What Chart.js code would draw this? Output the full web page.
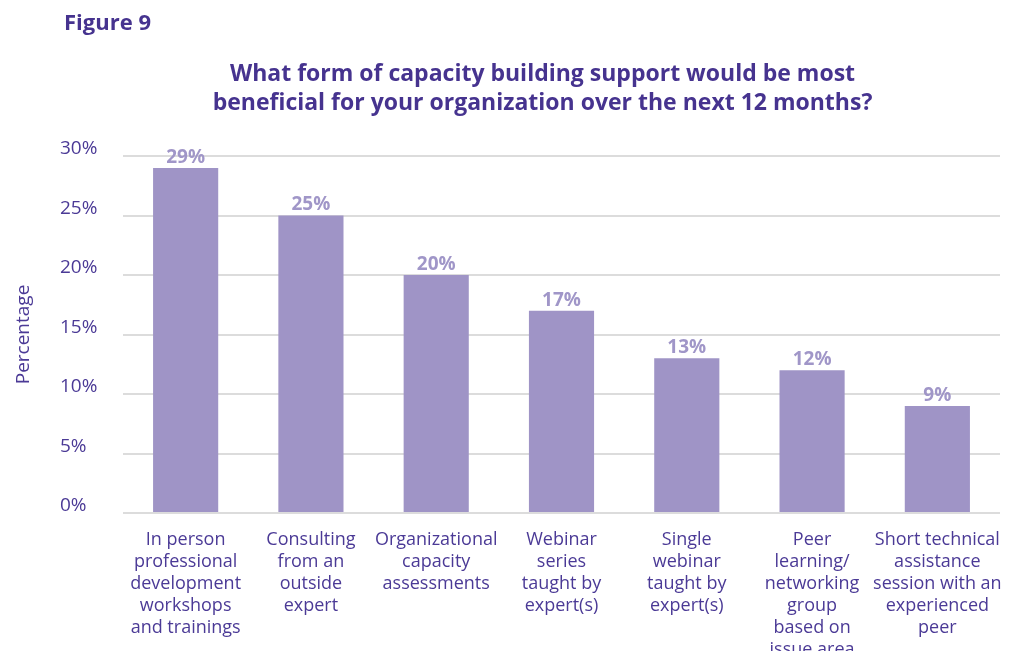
<!DOCTYPE html>
<html>
<head>
<meta charset="utf-8">
<title>Capacity building support</title>
<script src="https://cdn.jsdelivr.net/npm/chart.js@4/dist/chart.umd.min.js"></script>
<style>
    body {
        margin: 0;
        background: #ffffff;
        font-family: 'Open Sans', sans-serif;
    }
    #wrap {
        position: relative;
        width: 1031px;
        height: 651px;
        overflow: hidden;
    }
    #figure-label {
        position: absolute;
        left: 64px;
        top: 6px;
        font-size: 22px;
        font-weight: bold;
        color: #46338f;
    }
    #chart-title {
        position: absolute;
        left: 0;
        width: 1085px;
        top: 58px;
        text-align: center;
        font-size: 23px;
        line-height: 29px;
        font-weight: bold;
        color: #46338f;
    }
    canvas {
        position: absolute;
        left: 0;
        top: 0;
    }
</style>
</head>
<body>
<div id="wrap">
    <canvas id="support-chart" width="1031" height="651"></canvas>
    <div id="figure-label">Figure 9</div>
    <div id="chart-title">What form of capacity building support would be most<br>beneficial for your organization over the next 12 months?</div>
</div>

<script>
// Survey answers (share of respondents, %)
const categories = [
    ['In person', 'professional', 'development', 'workshops', 'and trainings'],
    ['Consulting', 'from an', 'outside', 'expert'],
    ['Organizational', 'capacity', 'assessments'],
    ['Webinar', 'series', 'taught by', 'expert(s)'],
    ['Single', 'webinar', 'taught by', 'expert(s)'],
    ['Peer', 'learning/', 'networking', 'group', 'based on', 'issue area'],
    ['Short technical', 'assistance', 'session with an', 'experienced', 'peer']
];
const percentages = [29, 25, 20, 17, 13, 12, 9];
const yTicks = [0, 5, 10, 15, 20, 25, 30];

const barColor = '#9f94c6';
const textColor = '#4b3a96';

// Value labels printed above each bar
const barValueLabels = {
    id: 'barValueLabels',
    afterDatasetsDraw(chart) {
        const ctx = chart.ctx;
        const meta = chart.getDatasetMeta(0);
        ctx.save();
        ctx.font = 'bold 19px "Open Sans", sans-serif';
        ctx.fillStyle = '#a096c8';
        ctx.textAlign = 'center';
        ctx.textBaseline = 'bottom';
        meta.data.forEach((bar, i) => {
            ctx.fillText(percentages[i] + '%', bar.x, bar.y - 1);
        });
        ctx.restore();
    }
};

function initChart() {
    const ctx = document.getElementById('support-chart').getContext('2d');

    new Chart(ctx, {
        type: 'bar',
        data: {
            labels: categories,
            datasets: [{
                data: percentages,
                backgroundColor: barColor,
                borderWidth: 0,
                categoryPercentage: 1,
                barPercentage: 0.52
            }]
        },
        options: {
            responsive: false,
            devicePixelRatio: 1,
            animation: false,
            layout: {
                padding: { top: 156, left: 60, right: 31, bottom: 0 }
            },
            plugins: {
                legend: { display: false },
                tooltip: { enabled: false }
            },
            scales: {
                x: {
                    grid: { display: false },
                    border: { display: false },
                    ticks: {
                        color: textColor,
                        font: { family: 'Open Sans', size: 18, lineHeight: '22px' },
                        padding: 8,
                        maxRotation: 0,
                        autoSkip: false
                    },
                    afterFit: function(scale) {
                        scale.height = 138;
                    }
                },
                y: {
                    min: 0,
                    max: 30,
                    afterBuildTicks: function(scale) {
                        scale.ticks = yTicks.map(v => ({ value: v }));
                    },
                    grid: {
                        color: '#dcdcdc',
                        lineWidth: 2,
                        drawTicks: false
                    },
                    border: { display: false },
                    ticks: {
                        color: textColor,
                        font: { family: 'Open Sans', size: 19 },
                        crossAlign: 'far',
                        labelOffset: -7,
                        callback: function(value) {
                            return value + '%';
                        }
                    },
                    title: {
                        display: true,
                        text: 'Percentage',
                        color: textColor,
                        font: { family: 'Open Sans', size: 19 },
                        padding: { top: -48, bottom: 0 }
                    },
                    afterFit: function(scale) {
                        scale.width = 63;
                    }
                }
            }
        },
        plugins: [barValueLabels]
    });
}

document.addEventListener('DOMContentLoaded', initChart);
</script>
</body>
</html>
